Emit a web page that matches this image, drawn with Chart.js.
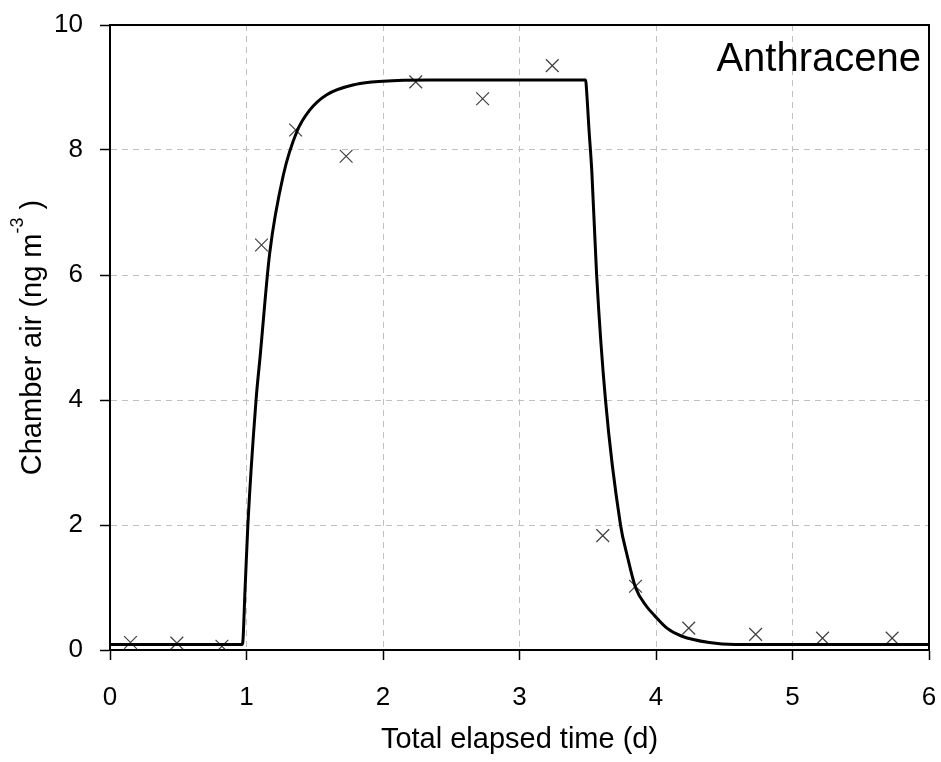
<!DOCTYPE html>
<html>
<head>
<meta charset="utf-8">
<script src="https://cdn.jsdelivr.net/npm/chart.js@4"></script>
<style>
  html, body { margin: 0; padding: 0; background: #fff; }
  #wrap { width: 941px; height: 762px; }
</style>
</head>
<body>
<div id="wrap"><canvas id="myChart" width="941" height="762"></canvas></div>
<script>
// measured points (crosses)
var obsX = [0.15, 0.49, 0.82, 1.11, 1.36, 1.73, 2.24, 2.73, 3.24, 3.61, 3.85, 4.24, 4.73, 5.22, 5.73];
var obsY = [0.12, 0.11, 0.06, 6.48, 8.32, 7.9, 9.09, 8.82, 9.35, 1.83, 1.02, 0.35, 0.25, 0.19, 0.19];

// model curve
var modelX = [0, 0.97, 0.99, 1.01, 1.07, 1.10, 1.17, 1.27, 1.37, 1.46, 1.585, 1.80, 2.0, 2.34, 3.485,
              3.49, 3.51, 3.53, 3.565, 3.63, 3.74, 3.79, 3.85, 3.93, 3.99, 4.08, 4.19, 4.39, 4.58, 6.0];
var modelY = [0.09, 0.09, 1.0, 2.0, 4.0, 4.7, 6.35, 7.6, 8.3, 8.63, 8.88, 9.05, 9.1, 9.12, 9.12,
              9.0, 8.3, 7.65, 6.0, 4.0, 2.0, 1.5, 1.0, 0.7, 0.55, 0.35, 0.22, 0.12, 0.09, 0.09];

var xTicks = [0, 1, 2, 3, 4, 5, 6];
var yTicks = [0, 2, 4, 6, 8, 10];

var xTitle = 'Total elapsed time (d)';
var yTitle = ['Chamber air (ng m', '-3', ' )'];
var label = 'Anthracene';

var FONT = '"Liberation Sans", Arial, sans-serif';

function toPts(xs, ys) {
  return xs.map(function (x, i) { return { x: x, y: ys[i] }; });
}

// frame + titles + label
var extras = {
  id: 'extras',
  afterDraw: function (chart) {
    var ctx = chart.ctx;
    var a = chart.chartArea;
    ctx.save();
    ctx.strokeStyle = '#000';
    ctx.lineWidth = 2;
    ctx.strokeRect(a.left, a.top, a.right - a.left, a.bottom - a.top);

    ctx.fillStyle = '#000';
    // x title
    ctx.font = '29px ' + FONT;
    ctx.textAlign = 'center';
    ctx.textBaseline = 'middle';
    ctx.fillText(xTitle, (a.left + a.right) / 2, 740);

    // y title, rotated, with superscript
    ctx.translate(33, (a.top + a.bottom) / 2);
    ctx.rotate(-Math.PI / 2);
    ctx.textAlign = 'left';
    var big = '29px ' + FONT, small = '18px ' + FONT;
    ctx.font = big;
    var w1 = ctx.measureText(yTitle[0]).width;
    var w3 = ctx.measureText(yTitle[2]).width;
    ctx.font = small;
    var w2 = ctx.measureText(yTitle[1]).width;
    var x0 = -(w1 + w2 + w3) / 2;
    ctx.font = big;
    ctx.fillText(yTitle[0], x0, 0);
    ctx.font = small;
    ctx.fillText(yTitle[1], x0 + w1, -15);
    ctx.font = big;
    ctx.fillText(yTitle[2], x0 + w1 + w2, 0);
    ctx.restore();

    ctx.save();
    ctx.fillStyle = '#000';
    ctx.font = '40px ' + FONT;
    ctx.textAlign = 'right';
    ctx.textBaseline = 'alphabetic';
    ctx.fillText(label, a.right - 8, 71);
    ctx.restore();
  }
};

var ctx = document.getElementById('myChart');
var myChart = new Chart(ctx, {
  type: 'scatter',
  data: {
    datasets: [
      {
        type: 'line',
        data: toPts(modelX, modelY),
        borderColor: '#000',
        borderWidth: 3,
        pointRadius: 0,
        cubicInterpolationMode: 'monotone',
        fill: false,
        order: 1
      },
      {
        data: toPts(obsX, obsY),
        pointStyle: 'crossRot',
        pointRadius: 9,
        borderColor: '#404040',
        borderWidth: 1.2,
        backgroundColor: 'transparent',
        order: 2
      }
    ]
  },
  plugins: [extras],
  options: {
    responsive: false,
    animation: false,
    layout: { padding: { top: 25, right: 12, left: 0, bottom: 0 } },
    plugins: { legend: { display: false }, tooltip: { enabled: false } },
    scales: {
      x: {
        type: 'linear',
        min: 0, max: 6,
        afterFit: function (s) { s.height = 112; s.paddingLeft = 0; s.paddingRight = 0; },
        afterBuildTicks: function (s) { s.ticks = xTicks.map(function (v) { return { value: v }; }); },
        grid: { color: '#c0c0c0', lineWidth: 1, tickColor: '#000', tickWidth: 1.5, tickLength: 10, tickBorderDash: [] },
        border: { display: true, color: '#000', width: 2, dash: [6, 5] },
        ticks: { color: '#000', font: { family: FONT, size: 26 }, padding: 22, maxRotation: 0 }
      },
      y: {
        type: 'linear',
        min: 0, max: 10,
        afterFit: function (s) { s.width = 110; s.paddingTop = 0; s.paddingBottom = 0; },
        afterBuildTicks: function (s) { s.ticks = yTicks.map(function (v) { return { value: v }; }); },
        grid: { color: '#c0c0c0', lineWidth: 1, tickColor: '#000', tickWidth: 1.5, tickLength: 10, tickBorderDash: [] },
        border: { display: true, color: '#000', width: 2, dash: [6, 5] },
        ticks: { color: '#000', font: { family: FONT, size: 26 }, padding: 17 }
      }
    }
  }
});
</script>
</body>
</html>
